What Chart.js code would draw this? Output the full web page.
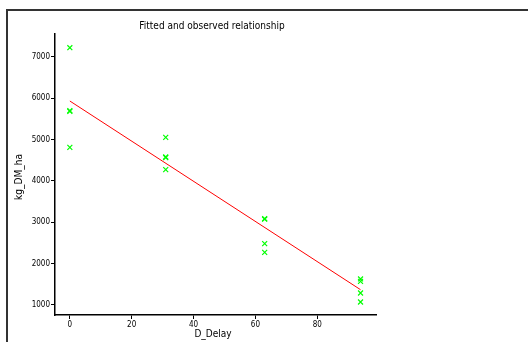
<!DOCTYPE html>
<html>
<head>
<meta charset="utf-8">
<script src="https://cdn.jsdelivr.net/npm/chart.js@4"></script>
<style>
  html, body { margin: 0; padding: 0; background: #fff; }
  #wrap { width: 528px; height: 342px; position: relative; }
</style>
</head>
<body>
<div id="wrap"><canvas id="myChart" width="528" height="342"></canvas></div>
<script>
// observed points
const delayObs = [0, 0, 0, 0, 31, 31, 31, 31, 63, 63, 63, 63, 94, 94, 94, 94];
const yieldObs = [7225, 5700, 5685, 4814, 5056, 4580, 4565, 4274, 3090, 3075, 2484, 2274, 1630, 1571, 1290, 1073];
// fitted line end points
const delayFit = [0, 94];
const yieldFit = [5935, 1370];
// tick labels
const xTicks = [0, 20, 40, 60, 80];
const yTicks = [1000, 2000, 3000, 4000, 5000, 6000, 7000];

const font = "'DejaVu Sans Condensed', 'DejaVu Sans', sans-serif";

const frameAndText = {
    id: 'frameAndText',
    afterDraw(chart) {
        const c = chart.ctx;
        c.save();
        // partial outer frame
        c.strokeStyle = '#333';
        c.lineWidth = 2;
        c.beginPath();
        c.moveTo(528, 10);
        c.lineTo(7, 10);
        c.lineTo(7, 342);
        c.stroke();

        c.fillStyle = '#000';
        c.textAlign = 'center';
        c.textBaseline = 'middle';
        c.font = '10px ' + font;
        c.fillText('Fitted and observed relationship', 212, 26);
        c.fillText('D_Delay', 213, 334);

        c.translate(19, 177);
        c.rotate(-Math.PI / 2);
        c.fillText('kg_DM_ha', 0, 0);
        c.restore();
    }
};

const ctx = document.getElementById('myChart').getContext('2d');
const myChart = new Chart(ctx, {
    type: 'scatter',
    data: {
        datasets: [{
            label: 'observed',
            data: delayObs.map((d, i) => ({ x: d, y: yieldObs[i] })),
            pointStyle: 'crossRot',
            radius: 3.5,
            borderColor: '#00ff00',
            backgroundColor: '#00ff00',
            borderWidth: 1.2
        }, {
            type: 'line',
            label: 'fitted',
            data: delayFit.map((d, i) => ({ x: d, y: yieldFit[i] })),
            borderColor: '#ff0000',
            borderWidth: 1,
            pointRadius: 0,
            fill: false
        }]
    },
    options: {
        responsive: false,
        animation: false,
        layout: {
            padding: { left: 0, top: 34, right: 152, bottom: 0 }
        },
        scales: {
            x: {
                type: 'linear',
                min: -4.8,
                max: 99,
                grid: { drawOnChartArea: false, tickLength: 4, color: '#000' },
                border: { color: '#000', width: 1.5 },
                ticks: { color: '#000', font: { family: font, size: 8 }, padding: 1, maxRotation: 0,
                    callback: (v) => String(v) },
                afterBuildTicks: (scale) => { scale.ticks = xTicks.map(v => ({ value: v })); },
                afterFit: (scale) => { scale.height = 27; }
            },
            y: {
                min: 758,
                max: 7556,
                grid: { drawOnChartArea: false, tickLength: 4, color: '#000' },
                border: { color: '#000', width: 1.5 },
                ticks: { color: '#000', font: { family: font, size: 8 }, padding: 1,
                    callback: (v) => String(v) },
                afterBuildTicks: (scale) => { scale.ticks = yTicks.map(v => ({ value: v })); },
                afterFit: (scale) => { scale.width = 55; }
            }
        },
        plugins: {
            legend: { display: false },
            tooltip: { enabled: false }
        }
    },
    plugins: [frameAndText]
});
</script>
</body>
</html>
